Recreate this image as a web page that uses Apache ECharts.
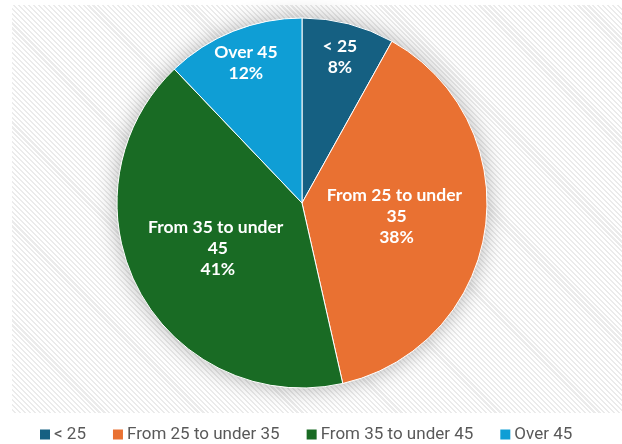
<!DOCTYPE html>
<html>
<head>
<meta charset="utf-8">
<script src="https://cdn.jsdelivr.net/npm/echarts@6/dist/echarts.min.js"></script>
<style>
html,body{margin:0;padding:0;background:#fff;}
#bg{position:absolute;left:12px;top:5px;width:610px;height:408px;
background:repeating-linear-gradient(45deg,#ffffff 0px,#ffffff 2px,#ebebeb 2px,#ebebeb 3.5px);}
#main{position:absolute;left:0;top:0;width:622px;height:444px;}
</style>
</head>
<body>
<div id="bg"></div>
<div id="main"></div>
<script>
const categories = ['< 25', 'From 25 to under 35', 'From 35 to under 45', 'Over 45'];
const values = [8, 38, 41, 12];
const colors = ['#156082', '#E97132', '#196B24', '#0F9ED5'];
const outerLabelSlices = ['< 25', 'Over 45'];

const chart = echarts.init(document.getElementById('main'), null, {renderer: 'canvas'});
const labelFont = {color: '#fff', fontFamily: 'Lato, "Open Sans", sans-serif', fontWeight: 'bold', fontSize: 17.5, lineHeight: 21};
const fmt = p => p.name + '\n' + p.value + '%';

chart.setOption({
  backgroundColor: 'transparent',
  color: colors,
  legend: {
    top: 421, left: 35,
    icon: 'rect', itemWidth: 10, itemHeight: 10, itemGap: 27, itemStyle: {borderWidth: 0},
    textStyle: {color: '#595959', fontSize: 17, fontFamily: 'Roboto, sans-serif', padding: [0, 0, 0, -1]},
    data: categories
  },
  series: [
    {
      type: 'pie', silent: true, center: [302, 203], radius: 185,
      label: {show: false}, labelLine: {show: false},
      itemStyle: {color: '#fff', shadowBlur: 22, shadowColor: 'rgba(0,0,0,0.3)'},
      data: [{value: 1, name: ''}], legendHoverLink: false, tooltip: {show: false}
    },
    {
      type: 'pie', center: [302, 203], radius: 185, startAngle: 90, clockwise: true,
      itemStyle: {borderColor: '#ffffff', borderWidth: 1},
      label: Object.assign({show: true, position: 'inside', width: 150, overflow: 'break', formatter: fmt}, labelFont),
      labelLine: {show: false},
      data: categories.map((c, i) => ({
        name: c, value: values[i],
        label: {show: outerLabelSlices.indexOf(c) < 0}
      }))
    },
    {
      type: 'pie', silent: true, center: [302, 203], radius: 296, startAngle: 90, clockwise: true,
      itemStyle: {color: 'rgba(0,0,0,0)'},
      label: Object.assign({show: true, position: 'inside', formatter: fmt}, labelFont),
      labelLine: {show: false},
      data: categories.map((c, i) => ({
        name: c, value: values[i],
        label: {show: outerLabelSlices.indexOf(c) >= 0}
      }))
    }
  ]
});
</script>
</body>
</html>
